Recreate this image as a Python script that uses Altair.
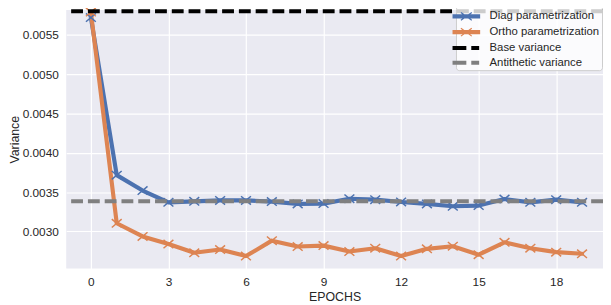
import altair as alt
import pandas as pd

epochs = list(range(20))
diag = [0.00572, 0.003716, 0.00352, 0.00337, 0.003383, 0.003395, 0.003395, 0.00338,
        0.00335, 0.003354, 0.003416, 0.003404, 0.003375, 0.00335, 0.00332, 0.003329,
        0.003412, 0.00337, 0.003404, 0.00337]
ortho = [0.00579, 0.003104, 0.002937, 0.00284, 0.002729, 0.00277, 0.002687, 0.002883,
         0.002808, 0.00282, 0.002745, 0.002787, 0.002687, 0.002779, 0.002812, 0.002704,
         0.002862, 0.002787, 0.002737, 0.002716]
series_names = ["Diag parametrization", "Ortho parametrization", "Base variance", "Antithetic variance"]
ref_values = [0.0058, 0.003385]
colors = ["#4C72B0", "#DD8452", "#000000", "#808080"]
x_ticks = [0, 3, 6, 9, 12, 15, 18]
y_ticks = [0.0030, 0.0035, 0.0040, 0.0045, 0.0050, 0.0055]

df_lines = pd.DataFrame({
    "epoch": epochs * 2,
    "value": diag + ortho,
    "series": [series_names[0]] * len(diag) + [series_names[1]] * len(ortho),
})
df_rules = pd.DataFrame({"series": series_names[2:], "value": ref_values})

FONT = "Liberation Sans"
TXT = "#262626"

color_scale = alt.Scale(domain=series_names, range=colors)


def band(x0, x1):
    return "".join(f"M{x0},{y}H{x1}" for y in (-0.2, -0.067, 0.067, 0.2))


sym_line = band(-1.867, 1.867) + "M-0.733,-0.533L0.733,0.533M-0.733,0.533L0.733,-0.533"
sym_dash = band(-1.867, 0) + band(0.667, 1.733)
shape_expr = ("(datum.value == 'Base variance' || datum.value == 'Antithetic variance') ? '"
              + sym_dash + "' : '" + sym_line + "'")

legend = alt.Legend(
    title=None, orient="none", legendX=395, legendY=-4,
    fillColor="rgba(255,255,255,0.8)", strokeColor="#cccccc", cornerRadius=3,
    padding=2, rowPadding=1, symbolSize=225, labelOffset=15,
    labelFont=FONT, labelFontSize=11.5, labelColor=TXT,
    symbolType={"expr": shape_expr},
    symbolStrokeWidth=1.2, symbolOpacity=1,
)

x_enc = alt.X("epoch:Q", scale=alt.Scale(domain=[-0.954, 19.81], nice=False, zero=False),
              axis=alt.Axis(values=x_ticks, title="EPOCHS", format="d"))
y_enc = alt.Y("value:Q", scale=alt.Scale(domain=[0.002529, 0.005816], nice=False, zero=False),
              axis=alt.Axis(values=y_ticks, title="Variance", format=".4f"))

lines = alt.Chart(df_lines).mark_line(strokeWidth=4.2, strokeJoin="round", strokeCap="round").encode(
    x=x_enc, y=y_enc,
    color=alt.Color("series:N", scale=color_scale, legend=legend),
)

points = alt.Chart(df_lines).mark_point(
    shape="M-1,-0.85L1,0.85M-1,0.85L1,-0.85", size=100, strokeWidth=1.5, filled=False, opacity=1
).encode(
    x=x_enc, y=y_enc,
    color=alt.Color("series:N", scale=color_scale, legend=legend),
)

rules = alt.Chart(df_rules).mark_rule(strokeWidth=4, strokeDash=[12, 5]).encode(
    y=alt.Y("value:Q"),
    color=alt.Color("series:N", scale=color_scale, legend=legend),
)

chart = alt.layer(lines, points, rules).properties(
    width=544, height=262,
    autosize=alt.AutoSizeParams(type="none"),
    padding={"left": 59, "top": 0, "right": 0, "bottom": 35},
    background="white",
).configure_view(
    fill="#EAEAF2", stroke=None
).configure_axis(
    grid=True, gridColor="white", gridWidth=1.2, domain=False, ticks=False, tickSize=0,
    labelFont=FONT, labelFontSize=12, labelColor=TXT,
    titleFont=FONT, titleFontSize=12.5, titleColor=TXT, titleFontWeight="normal",
).configure_axisX(
    labelPadding=8, titlePadding=3,
).configure_axisY(
    labelPadding=8, titlePadding=1,
)

chart.save("out.html", embed_options={"renderer": "svg", "actions": False})
